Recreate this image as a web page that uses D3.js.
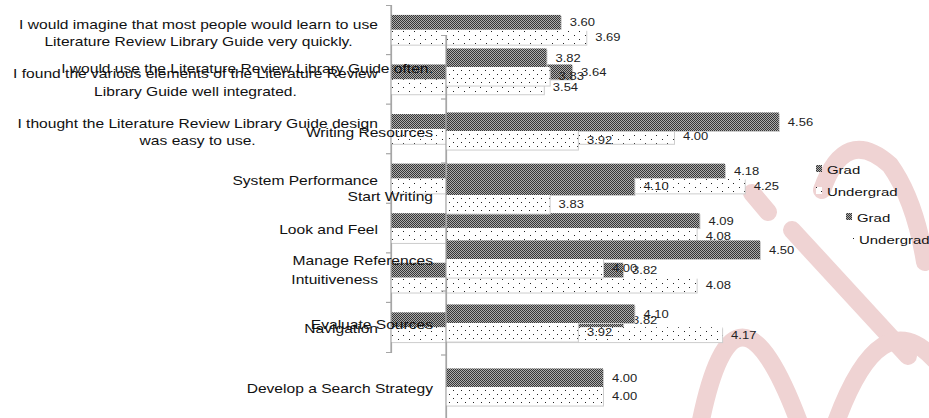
<!doctype html>
<html lang="en">
<head>
<meta charset="utf-8">
<title>Literature Review Library Guide - Grad vs Undergrad</title>
<style>
html, body {
	margin: 0;
	padding: 0;
	background: #fff;
	overflow: hidden;
}
svg {
	display: block;
	font-family: 'Liberation Sans', Arial, sans-serif;
}
.cat { font-size: 12px; fill: #111; }
.val { font-size: 10px; fill: #222; }
.leg { font-size: 11.5px; fill: #111; }
.axis path, .axis line, .bound { stroke: #a6a6a6; stroke-width: 1.2; fill: none; }
.mark { fill: none; stroke: #efd3d3; stroke-width: 18; stroke-linecap: round; }
</style>
</head>
<body>
<div id="chart"></div>
<script src="https://cdn.jsdelivr.net/npm/d3@7/dist/d3.min.js"></script>
<script>
(function (d3) {
	'use strict';

	var W = 929, H = 418;
	var SX = 1.3; // the source picture is stretched sideways, text too

	/* DATA */

	var series = ['Grad', 'Undergrad'];

	// chart one: statements and usability
	var catsA = [
		['I would imagine that most people would learn to use', 'Literature Review Library Guide very quickly.'],
		['I found the various elements of the Literature Review', 'Library Guide well integrated.'],
		['I thought the Literature Review Library Guide design', 'was easy to use.'],
		['System Performance'],
		['Look and Feel'],
		['Intuitiveness'],
		['Navigation']
	];
	var gradA = [3.60, 3.64, 4.20, 4.18, 4.09, 3.82, 3.82];
	var underA = [3.69, 3.54, 4.00, 4.25, 4.08, 4.08, 4.17];

	// chart two: guide sections, drawn over the first one
	var catsB = [
		['I would use the Literature Review Library Guide often.'],
		['Writing Resources'],
		['Start Writing'],
		['Manage References'],
		['Evaluate Sources'],
		['Develop a Search Strategy']
	];
	var gradB = [3.82, 4.56, 4.10, 4.50, 4.10, 4.00];
	var underB = [3.83, 3.92, 3.83, 4.00, 3.92, 4.00];

	/* SETUP */

	var svg = d3.select('#chart').append('svg')
		.attr('width', W)
		.attr('height', H);

	var defs = svg.append('defs');

	var checker = function (id) {
		var p = defs.append('pattern').attr('id', id)
			.attr('patternUnits', 'userSpaceOnUse')
			.attr('width', 2).attr('height', 2);
		p.append('rect').attr('width', 2).attr('height', 2).attr('fill', '#acacac');
		p.append('rect').attr('width', 1).attr('height', 1).attr('fill', '#363636');
		p.append('rect').attr('x', 1).attr('y', 1).attr('width', 1).attr('height', 1).attr('fill', '#363636');
	};
	var dots = function (id, w, h, pts) {
		var p = defs.append('pattern').attr('id', id)
			.attr('patternUnits', 'userSpaceOnUse')
			.attr('width', w).attr('height', h);
		p.append('rect').attr('width', w).attr('height', h).attr('fill', '#fff');
		pts.forEach(function (q) {
			p.append('rect').attr('x', q[0]).attr('y', q[1])
				.attr('width', 1).attr('height', 1).attr('fill', '#222');
		});
	};
	checker('gradFill');
	dots('dotsA', 11, 8, [[2, 3], [7, 7]]);
	dots('dotsB', 8, 8, [[1, 2], [5, 6]]);

	// pink watermark behind the charts
	var wm = svg.append('g');
	[
		'M752,193 L768,212',
		'M792,230 L908,356',
		'M700,425 Q735,250 800,425',
		'M822,190 Q845,125 890,165 Q915,200 925,262',
		'M835,425 Q880,300 935,360'
	].forEach(function (d) {
		wm.append('path').attr('class', 'mark').attr('d', d);
	});

	var stretched = function (sel, x, y) {
		return sel.attr('transform', 'translate(' + x + ',' + y + ') scale(' + SX + ',1)');
	};

	/* RENDER */

	var drawChart = function (cfg) {
		var g = svg.append('g');
		var y = cfg.y, x = cfg.x;
		var sub = d3.scaleBand().domain(series).range([0, y.bandwidth()]);
		var x0 = x.range()[0];
		var gap = (y.step() - y.bandwidth()) / 2;

		// axis with outer stubs, then the boundaries between categories
		g.append('g').attr('class', 'axis')
			.attr('transform', 'translate(' + x0 + ',0)')
			.call(d3.axisLeft(y).tickValues([]).tickSizeOuter(5));
		g.selectAll('line.bound')
			.data(y.domain().slice(1))
			.enter().append('line')
			.attr('class', 'bound')
			.attr('x1', x0 - 5).attr('x2', x0)
			.attr('y1', function (i) { return y(i) - gap; })
			.attr('y2', function (i) { return y(i) - gap; });

		var rows = [];
		y.domain().forEach(function (i) {
			rows.push({ i: i, s: 'Grad', v: cfg.grad[i] });
			rows.push({ i: i, s: 'Undergrad', v: cfg.under[i] });
		});

		// bars with a soft shadow
		g.selectAll('rect.shadow').data(rows).enter().append('rect')
			.attr('class', 'shadow')
			.attr('x', x0 + 1)
			.attr('y', function (d) { return y(d.i) + sub(d.s) + 1; })
			.attr('width', function (d) { return x(d.v) - x0; })
			.attr('height', sub.bandwidth())
			.attr('fill', '#cdcdcd');
		g.selectAll('rect.bar').data(rows).enter().append('rect')
			.attr('class', 'bar')
			.attr('x', x0)
			.attr('y', function (d) { return y(d.i) + sub(d.s); })
			.attr('width', function (d) { return x(d.v) - x0; })
			.attr('height', sub.bandwidth())
			.attr('fill', function (d) { return d.s === 'Grad' ? 'url(#gradFill)' : 'url(#' + cfg.dots + ')'; });

		// axis line drawn again on top of the bars
		g.append('line').attr('class', 'bound')
			.attr('x1', x0).attr('x2', x0)
			.attr('y1', y.range()[0]).attr('y2', y.range()[1]);

		g.selectAll('text.val').data(rows).enter().append('text')
			.attr('class', 'val')
			.text(function (d) { return d.v.toFixed(2); })
			.each(function (d) {
				stretched(d3.select(this), x(d.v) + 9, y(d.i) + sub(d.s) + sub.bandwidth() / 2 + 4);
			});

		// category labels: block right aligned, lines centred in the block
		y.domain().forEach(function (i) {
			var lines = cfg.cats[i];
			var c = y(i) + y.bandwidth() / 2;
			var n = lines.length;
			var ts = lines.map(function (t) {
				return g.append('text').attr('class', 'cat')
					.attr('text-anchor', 'middle')
					.text(t);
			});
			var bw = d3.max(ts, function (t) { return t.node().getComputedTextLength() * SX; });
			ts.forEach(function (t, k) {
				var off = n > 1 ? 7.5 + (k - (n - 1) / 2) * 17.5 : 6;
				stretched(t, cfg.labelRight - bw / 2, c + off);
			});
		});

		// legend
		var lg = g.append('g');
		series.forEach(function (s, k) {
			var p = cfg.legend[k];
			lg.append('rect')
				.attr('x', p[0] - 11).attr('y', p[1] - 9)
				.attr('width', 6).attr('height', 7)
				.attr('fill', s === 'Grad' ? 'url(#gradFill)' : 'url(#' + cfg.dots + ')');
			stretched(lg.append('text').attr('class', 'leg').text(s), p[0], p[1]);
		});
	};

	var yA = d3.scaleBand().domain(d3.range(catsA.length)).range([5, 352])
		.paddingInner(0.4).paddingOuter(0.2);
	var xA = d3.scaleLinear().domain([3, 5]).range([391, 957]);

	var yB = d3.scaleBand().domain(d3.range(catsB.length)).range([35, 419])
		.paddingInner(0.42).paddingOuter(0.21);
	var xB = d3.scaleLinear().domain([3.5, 5]).range([446, 917]);

	drawChart({
		cats: catsA, grad: gradA, under: underA,
		x: xA, y: yA, dots: 'dotsA', labelRight: 378,
		legend: [[827, 174], [827, 196]]
	});
	drawChart({
		cats: catsB, grad: gradB, under: underB,
		x: xB, y: yB, dots: 'dotsB', labelRight: 433,
		legend: [[857, 222], [859, 244]]
	});

})(window.d3);
</script>
</body>
</html>
